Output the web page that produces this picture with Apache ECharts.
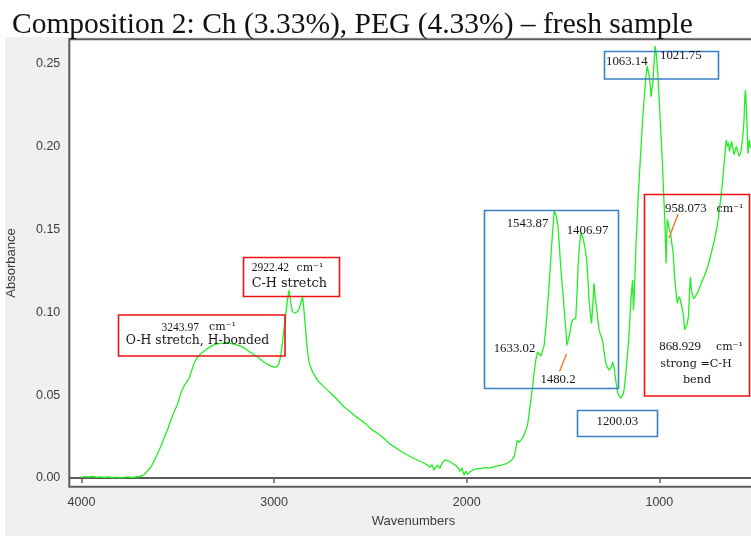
<!DOCTYPE html>
<html>
<head>
<meta charset="utf-8">
<script src="https://cdn.jsdelivr.net/npm/echarts@6/dist/echarts.min.js"></script>
<style>
  html, body { margin: 0; padding: 0; background: #ffffff; }
  #chart { width: 751px; height: 536px; }
</style>
</head>
<body>
<div id="chart"></div>
<script>
// FTIR spectrum: wavenumber (cm-1) and absorbance, high to low wavenumber
const wavenumbers = [
  4000, 3980, 3960, 3940, 3920, 3900, 3880, 3860, 3840, 3820, 3800, 3780, 3760, 3740, 3720, 3700,
  3685, 3670, 3655, 3640, 3620, 3600, 3588, 3570, 3550, 3536, 3520, 3500, 3484, 3465, 3442, 3430,
  3415, 3400, 3380, 3364, 3340, 3320, 3300, 3277, 3260, 3243.97, 3225, 3200, 3173, 3150, 3125, 3104,
  3080, 3060, 3034, 3015, 3000, 2985, 2974, 2965, 2957, 2948, 2939, 2930, 2922.42, 2914, 2905, 2892,
  2879, 2870, 2862, 2852, 2844, 2836, 2828, 2818, 2800, 2775, 2750, 2723, 2700, 2670, 2637, 2600,
  2575, 2550, 2520, 2490, 2464, 2430, 2400, 2377, 2340, 2310, 2291, 2260, 2230, 2204, 2190, 2180,
  2170, 2160, 2152, 2140, 2125, 2110, 2100, 2085, 2070, 2060, 2048, 2035, 2025, 2014, 2005, 1995,
  1985, 1979, 1965, 1950, 1927, 1900, 1880, 1858, 1830, 1810, 1789, 1770, 1754, 1745, 1737, 1728,
  1720, 1710, 1702, 1693, 1684, 1676, 1667, 1658, 1650, 1641, 1633.02, 1624, 1615, 1607, 1598, 1589,
  1580, 1572, 1563, 1555, 1545.87, 1535, 1526, 1519, 1512, 1503, 1495, 1486, 1480.2, 1472, 1464, 1457,
  1451, 1443, 1434, 1428, 1422, 1415, 1406.97, 1400, 1394, 1385, 1377, 1371, 1365, 1358, 1352, 1345,
  1339, 1332, 1325, 1319, 1313, 1304, 1295, 1287, 1278, 1270, 1261, 1255, 1248, 1242, 1238, 1234,
  1231, 1224, 1217, 1210, 1200.03, 1193, 1186, 1180, 1174, 1165, 1157, 1152, 1148, 1143, 1139, 1134,
  1127, 1120, 1117, 1110, 1100, 1087, 1078, 1070, 1063.14, 1057, 1052, 1047, 1043, 1038, 1034, 1028,
  1021.75, 1016, 1012, 1006, 1000, 995, 991, 986, 982, 978, 974, 970, 965, 961, 958.073, 950,
  942, 936, 930, 925, 921, 914, 907, 901, 895, 889, 883, 875, 868.929, 861, 855, 849,
  845, 839, 835, 830, 822, 815, 800, 783, 766, 749, 730, 714, 700, 695, 680, 671,
  662, 653, 647, 641, 636, 631, 625, 619, 613, 607, 600, 593, 586, 579, 573, 567,
  561, 556, 553, 549, 545, 540, 536, 532, 528
];
const absorbance = [
  0.0005, 0.0008, 0.0006, 0.0009, 0.0004, 0.0007, 0.0003, 0.0006, 0.0002, 0.0005, 0.0001, 0.0004, 0.0007, 0.0003, 0.0006, 0.0009,
  0.0012, 0.0025, 0.0045, 0.0065, 0.0110, 0.0160, 0.0190, 0.0245, 0.0300, 0.0350, 0.0395, 0.0450, 0.0513, 0.0560, 0.0600, 0.0640,
  0.0692, 0.0725, 0.0750, 0.0765, 0.0785, 0.0800, 0.0808, 0.0812, 0.0815, 0.0818, 0.0812, 0.0805, 0.0795, 0.0780, 0.0760, 0.0745,
  0.0725, 0.0705, 0.0685, 0.0675, 0.0668, 0.0672, 0.0692, 0.0740, 0.0812, 0.0900, 0.0993, 0.1080, 0.1134, 0.1060, 0.1003, 0.0995,
  0.1003, 0.1020, 0.1054, 0.1094, 0.1000, 0.0893, 0.0780, 0.0692, 0.0640, 0.0590, 0.0560, 0.0530, 0.0505, 0.0470, 0.0430, 0.0395,
  0.0370, 0.0350, 0.0322, 0.0290, 0.0270, 0.0240, 0.0205, 0.0189, 0.0160, 0.0140, 0.0128, 0.0110, 0.0095, 0.0078, 0.0065, 0.0080,
  0.0048, 0.0065, 0.0078, 0.0058, 0.0095, 0.0110, 0.0109, 0.0098, 0.0085, 0.0075, 0.0068, 0.0040, 0.0060, 0.0018, 0.0040, 0.0022,
  0.0035, 0.0038, 0.0050, 0.0055, 0.0058, 0.0062, 0.0060, 0.0068, 0.0075, 0.0080, 0.0089, 0.0105, 0.0128, 0.0180, 0.0229, 0.0215,
  0.0209, 0.0240, 0.0260, 0.0270, 0.0320, 0.0390, 0.0470, 0.0550, 0.0640, 0.0712, 0.0760, 0.0758, 0.0735, 0.0725, 0.0800, 0.0910,
  0.1040, 0.1170, 0.1330, 0.1476, 0.1612, 0.1580, 0.1516, 0.1400, 0.1274, 0.1150, 0.1033, 0.0900, 0.0800, 0.0840, 0.0873, 0.0930,
  0.0953, 0.0955, 0.0963, 0.1100, 0.1274, 0.1400, 0.1480, 0.1460, 0.1435, 0.1380, 0.1315, 0.1200, 0.1074, 0.0990, 0.0933, 0.1050,
  0.1174, 0.1080, 0.1013, 0.0950, 0.0893, 0.0860, 0.0832, 0.0760, 0.0692, 0.0670, 0.0651, 0.0660, 0.0671, 0.0700, 0.0701, 0.0660,
  0.0631, 0.0570, 0.0520, 0.0495, 0.0482, 0.0490, 0.0510, 0.0560, 0.0631, 0.0750, 0.0873, 0.0980, 0.1074, 0.1140, 0.1194, 0.1013,
  0.1214, 0.1450, 0.1500, 0.1700, 0.1898, 0.2159, 0.2300, 0.2420, 0.2485, 0.2450, 0.2420, 0.2360, 0.2300, 0.2350, 0.2380, 0.2500,
  0.2605, 0.2560, 0.2500, 0.2400, 0.2260, 0.2150, 0.2059, 0.1950, 0.1838, 0.1720, 0.1616, 0.1500, 0.1295, 0.1480, 0.1560, 0.1510,
  0.1476, 0.1420, 0.1375, 0.1300, 0.1214, 0.1130, 0.1054, 0.1080, 0.1094, 0.1060, 0.1033, 0.0980, 0.0895, 0.0893, 0.0930, 0.0973,
  0.1080, 0.1214, 0.1150, 0.1114, 0.1080, 0.1074, 0.1120, 0.1174, 0.1220, 0.1274, 0.1360, 0.1435, 0.1520, 0.1556, 0.1700, 0.1797,
  0.1920, 0.2039, 0.2000, 0.2019, 0.1970, 0.1958, 0.2030, 0.2019, 0.1950, 0.1938, 0.2000, 0.1998, 0.1940, 0.1958, 0.2000, 0.2059,
  0.2150, 0.2300, 0.2340, 0.2250, 0.2139, 0.1958, 0.2010, 0.2039, 0.1990
];

// Axis ticks
const xTicks = [1000, 2000, 3000, 4000];
const yTicks = [0, 0.05, 0.10, 0.15, 0.20, 0.25];

const titleText = 'Composition 2: Ch (3.33%), PEG (4.33%) \u2013 fresh sample';
const xName = 'Wavenumbers';
const yName = 'Absorbance';
const unit = 'cm\u207B\u00B9';

const spectrum = wavenumbers.map((w, i) => [w, absorbance[i]]);

const chart = echarts.init(document.getElementById('chart'), null, { renderer: 'canvas' });

const numFont = '"Liberation Serif", "Times New Roman", serif';
const wordFont = '"DejaVu Serif", serif';
const ink = '#161616';
const red = '#f01010';
const blue = '#3a80c6';
const orange = '#ee7b30';
const axisGrey = '#5c5c5c';
const labelGrey = '#3c3c3c';
const sans = '"Liberation Sans", Arial, sans-serif';

function box(x, y, w, h, color) {
  return { type: 'rect', z: 50, shape: { x: x, y: y, width: w, height: h },
    style: { fill: 'none', stroke: color, lineWidth: 1.6 } };
}
function label(text, x, y, opts) {
  opts = opts || {};
  return { type: 'text', z: 51, x: x, y: y,
    style: { text: text, fill: ink, font: opts.font || ('12.8px ' + numFont),
      textAlign: opts.align || 'left', textVerticalAlign: 'middle' } };
}
function unitLabel(x, y) {
  return label(unit, x, y, { font: '11px ' + wordFont });
}
function leader(x1, y1, x2, y2) {
  return { type: 'line', z: 51, shape: { x1: x1, y1: y1, x2: x2, y2: y2 },
    style: { stroke: orange, lineWidth: 1.4 } };
}

chart.setOption({
  backgroundColor: '#ffffff',
  animation: false,
  title: {
    text: titleText,
    left: 7, top: 5,
    textStyle: { fontFamily: numFont, fontWeight: 'normal', fontSize: 29.5, color: '#111111' }
  },
  grid: {
    left: 69.3, top: 39.3, right: -101, bottom: 49.3,
    outerBoundsMode: 'none', containLabel: false,
    show: true, backgroundColor: '#ffffff', borderColor: axisGrey, borderWidth: 2
  },
  xAxis: {
    type: 'value', inverse: true, min: 0, max: 4063,
    axisLine: { show: true, lineStyle: { color: axisGrey, width: 2 } },
    axisTick: { show: true, length: 5, customValues: xTicks, lineStyle: { color: axisGrey, width: 1.5 } },
    axisLabel: { customValues: xTicks, margin: 9, fontFamily: sans, fontSize: 12.5, color: labelGrey,
      formatter: v => String(Math.round(v)) },
    splitLine: { show: false }
  },
  yAxis: {
    type: 'value', min: -0.00525, max: 0.2646,
    name: yName, nameLocation: 'middle', nameGap: 51, nameRotate: 90,
    nameTextStyle: { fontFamily: sans, fontSize: 13, color: labelGrey },
    axisLine: { show: true, lineStyle: { color: axisGrey, width: 2 } },
    axisTick: { show: true, length: 5, customValues: yTicks, lineStyle: { color: axisGrey, width: 1.5 } },
    axisLabel: { customValues: yTicks, margin: 9, fontFamily: sans, fontSize: 12.5, color: labelGrey,
      formatter: v => v.toFixed(2) },
    splitLine: { show: false }
  },
  series: [{
    type: 'line',
    data: spectrum,
    showSymbol: false,
    z: 10,
    lineStyle: { color: '#22ee22', width: 1.3 }
  }],
  graphic: [
    // grey panel behind the plot frame
    { type: 'rect', z: -100, silent: true, shape: { x: 5, y: 37, width: 746, height: 499 },
      style: { fill: '#f0f0f0' } },
    { type: 'text', z: 5, x: 413.5, y: 521.7,
      style: { text: xName, font: '13px ' + sans, fill: labelGrey,
        textAlign: 'center', textVerticalAlign: 'middle' } },

    // O-H stretch band
    box(118.5, 315, 166.5, 41, red),
    label('3243.97', 161.5, 327.5, { font: '11.5px ' + numFont }),
    unitLabel(209, 327.5),
    label('O-H stretch, H-bonded', 197.5, 341, { align: 'center', font: '12.4px ' + wordFont }),

    // C-H stretch
    box(243.5, 257.5, 96, 39, red),
    label('2922.42', 251.7, 268.3, { font: '11.5px ' + numFont }),
    unitLabel(296.5, 268.3),
    label('C-H stretch', 251.7, 283.5, { font: '12.8px ' + wordFont }),

    // 1700-1200 region
    box(484.5, 210.5, 134, 178, blue),
    label('1543.87', 527.5, 224, { align: 'center' }),
    label('1406.97', 587.5, 231, { align: 'center' }),
    label('1633.02', 514.5, 348.3, { align: 'center' }),
    label('1480.2', 558, 380, { align: 'center' }),
    leader(566.5, 354, 559.5, 371.5),

    box(577.5, 410.5, 80, 26, blue),
    label('1200.03', 617.3, 422, { align: 'center' }),

    box(604.5, 51.5, 114, 27.5, blue),
    label('1063.14', 606, 62),
    label('1021.75', 660, 56),

    // =C-H bend region
    box(644.5, 194.5, 105, 201.5, red),
    label('958.073', 665, 209),
    unitLabel(716.5, 209),
    leader(678, 214, 669, 238),
    label('868.929', 659.3, 346.7),
    unitLabel(716, 346.7),
    label('strong =C-H', 696, 364.3, { align: 'center', font: '11.2px ' + wordFont }),
    label('bend', 697, 380, { align: 'center', font: '11.2px ' + wordFont })
  ]
});
</script>
</body>
</html>
